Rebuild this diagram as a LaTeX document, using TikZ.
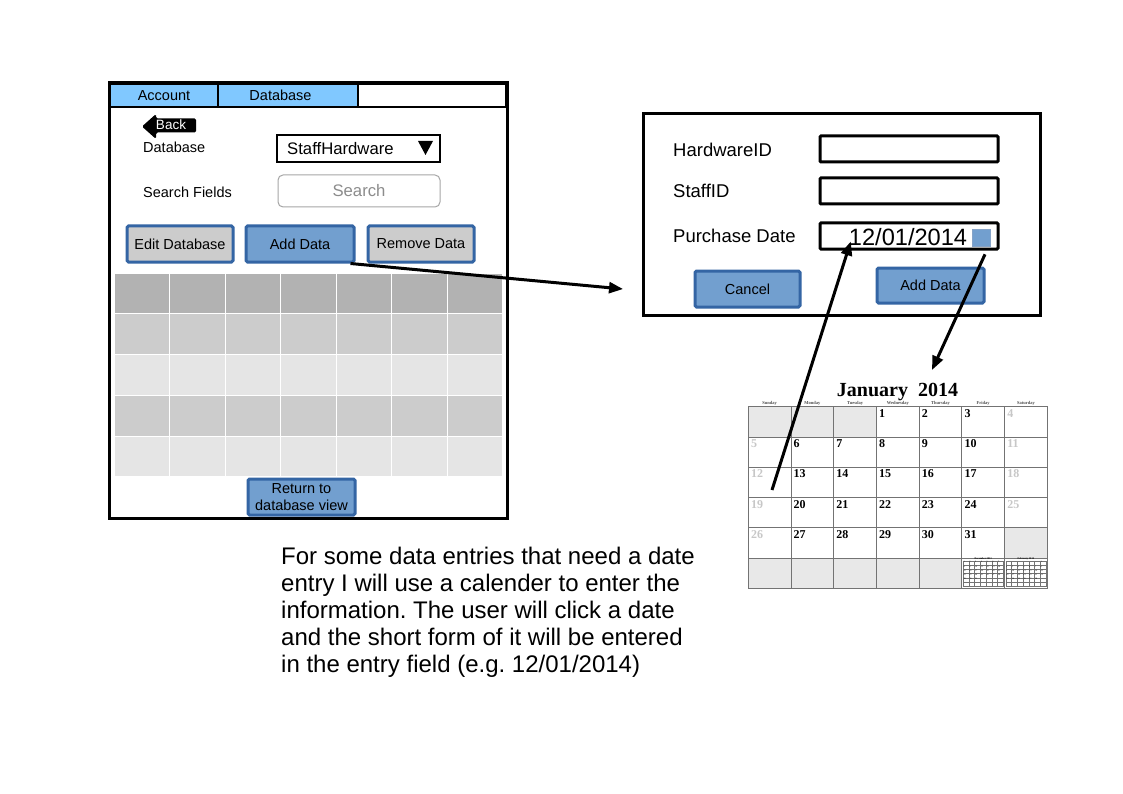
\documentclass[tikz,border=0pt]{standalone}
\usepackage{fontspec}
\setmainfont{Liberation Sans}
\newfontfamily\calfont{Liberation Serif}
\usepackage{xcolor}
\usepackage{tikz}
\usetikzlibrary{arrows.meta, positioning, calc}
\frenchspacing
\definecolor{tabblue}{RGB}{128,200,255}
\definecolor{btnblue}{RGB}{114,159,207}
\definecolor{btnedge}{RGB}{52,101,164}
\definecolor{calgrey}{RGB}{232,232,232}
\tikzstyle{window} = [rectangle, draw=black, line width=3pt, fill=white]
\tikzstyle{tab} = [rectangle, draw=black, line width=2.5pt, fill=tabblue, minimum height=23pt, font=\fontsize{14.5}{16}\selectfont]
\tikzstyle{fieldname} = [anchor=base west, inner sep=0pt, font=\fontsize{14.5}{16}\selectfont]
\tikzstyle{bigname} = [anchor=base west, inner sep=0pt, font=\fontsize{18.5}{22}\selectfont]
\tikzstyle{entry} = [rectangle, draw=black, line width=3pt, rounded corners=1pt, minimum width=178pt, minimum height=26pt]
\tikzstyle{button} = [rectangle, rounded corners=1.5pt, draw=btnedge, line width=3pt, fill=btnblue, minimum height=36pt, font=\fontsize{14.5}{16.7}\selectfont, align=center]
\tikzstyle{greybutton} = [button, fill=black!20]
\tikzstyle{daynum} = [anchor=north west, inner sep=1pt, font=\calfont\bfseries\fontsize{12}{13}\selectfont]
\tikzstyle{dayname} = [inner sep=0pt, text=black!70, font=\calfont\bfseries\fontsize{4.5}{5}\selectfont]
\tikzstyle{calcell} = [draw=black!55, line width=0.8pt]
\tikzstyle{arrow} = [line width=3pt, -{Triangle[length=14pt,width=11pt]}]

\begin{document}
\begin{tikzpicture}[x=1pt, y=-1pt]
    \useasboundingbox (0,0) rectangle (1123,794);

    \node[window, minimum width=398pt, minimum height=435pt] (win) at (308,300.5) {};
    \node[tab, minimum width=108pt] (account) at (164,95.5) {Account};
    \node[tab, minimum width=140pt] (database) at (288,95.5) {Database\hspace*{15pt}};
    \node[tab, minimum width=148pt, fill=white] (spare) at (432,95.5) {};

    \fill[rounded corners=1.5pt] (142,126.5) -- (156,114) -- (156,118.5) -- (196,118.5) -- (196,132.5) -- (156,132.5) -- (156,139) -- cycle;
    \node[anchor=base, inner sep=0pt, text=white, font=\fontsize{13.5}{15}\selectfont] (back) at (171,130) {Back};

    \node[fieldname] (dblabel) at (143,153) {Database};
    \node[rectangle, draw=black, line width=2.8pt, minimum width=163pt, minimum height=27pt] (dropdown) at (358.5,148.5) {};
    \node[anchor=base west, inner sep=0pt, font=\fontsize{16.7}{19}\selectfont] (dbname) at (287,155) {StaffHardware};
    \fill (418,141) -- (433,141) -- (425.5,155) -- cycle;

    \node[fieldname] (searchlabel) at (143,197.5) {Search Fields};
    \node[rectangle, rounded corners=5pt, draw=black!35, line width=1pt, minimum width=162pt, minimum height=32pt, text=black!45, font=\fontsize{16.7}{19}\selectfont] (search) at (359,191) {Search};

    \node[greybutton, minimum width=106pt] (edit) at (180,244) {Edit Database};
    \node[button, minimum width=108pt] (adddata) at (300,244) {Add Data};
    \node[greybutton, minimum width=106pt] (remove) at (421,244) {Remove Data};

    \foreach \row/\shade in {0/30,1/20,2/10,3/20,4/10}
        \foreach \col in {0,...,6}
            \filldraw[fill=black!\shade, draw=white, line width=1.2pt] (114+\col*55.57, 273+\row*40.8) rectangle ++(55.57,40.8);

    \node[button, minimum width=107pt, inner sep=1pt] (return) at (301.5,497) {Return to\\database view};

    \node[window, minimum width=397pt, minimum height=201pt] (dialog) at (841.5,214.5) {};
    \node[bigname] (hwlabel) at (673,156.5) {HardwareID};
    \node[bigname] (stafflabel) at (673,197.5) {StaffID};
    \node[bigname] (datelabel) at (673,243) {Purchase Date};
    \node[entry] (hwfield) at (909,149) {};
    \node[entry] (stafffield) at (909,191) {};
    \node[entry] (datefield) at (909,236) {};
    \node[anchor=base, inner sep=0pt, font=\fontsize{23.6}{26}\selectfont] (datetext) at (908,245) {12/01/2014};
    \node[rectangle, draw=btnedge!60, fill=btnblue, line width=0.6pt, minimum width=18pt, minimum height=17pt, inner sep=0pt] (calbtn) at (981,237.5) {};
    \node[button, minimum width=105pt] (cancel) at (747.5,289) {Cancel};
    \node[button, minimum width=107pt, minimum height=35pt] (confirm) at (930.5,285.5) {Add Data};

    \node[anchor=base, inner sep=0pt, font=\calfont\bfseries\fontsize{20}{22}\selectfont] (caltitle) at (897.5,396.7) {January\ \ 2014};
    \foreach \day [count=\i from 0] in {Sunday,Monday,Tuesday,Wednesday,Thursday,Friday,Saturday}
        \node[dayname] (head\i) at (748.3+\i*42.71+21.35, 403) {\day};
    \foreach \r/\c in {0/0,0/1,0/2,4/6,5/0,5/1,5/2,5/3,5/4}
        \fill[calgrey] (748.3+\c*42.71, 406.7+\r*30.27) rectangle ++(42.71,30.27);
    \foreach \r in {0,...,5}
        \foreach \c in {0,...,6}
            \draw[calcell] (748.3+\c*42.71, 406.7+\r*30.27) rectangle ++(42.71,30.27);
    \foreach \d in {1,...,31} {
        \pgfmathtruncatemacro{\pos}{\d+2}
        \pgfmathtruncatemacro{\r}{div(\pos,7)}
        \pgfmathtruncatemacro{\c}{mod(\pos,7)}
        \ifnum\c=0 \def\dcol{black!22}\else\ifnum\c=6 \def\dcol{black!22}\else\def\dcol{black}\fi\fi
        \node[daynum, text=\dcol] (d\d) at (748.3+\c*42.71+1.5, 406.7+\r*30.27+1.5) {\d};
    }
    \foreach \mx/\mname/\moff/\mdays in {963/December 2013/0/31, 1005.7/February 2014/6/28} {
        \node[inner sep=0pt, font=\calfont\bfseries\fontsize{2.6}{3}\selectfont] at (\mx+20.2,558.8) {\mname};
        \foreach \r in {0,...,5}
            \foreach \c in {0,...,6}
                \draw[draw=black!55, line width=0.3pt] (\mx+\c*5.75, 561+\r*4.2) rectangle ++(5.75,4.2);
        \foreach \d in {1,...,\mdays} {
            \pgfmathtruncatemacro{\pos}{\d+\moff-1}
            \pgfmathtruncatemacro{\r}{div(\pos,7)}
            \pgfmathtruncatemacro{\c}{mod(\pos,7)}
            \node[anchor=north west, inner sep=0.3pt, font=\calfont\fontsize{2.2}{2.5}\selectfont] at (\mx+\c*5.75, 561+\r*4.2) {\d};
        }
    }

    \node[anchor=north west, inner sep=0pt, align=left, font=\fontsize{24}{27}\selectfont] (note) at (281,547) {For some data entries that need a date\\entry I will use a calender to enter the\\information. The user will click a date\\and the short form of it will be entered\\in the entry field (e.g. 12/01/2014)};

    \coordinate (formin) at (623,289);
    \coordinate (pick) at (772,490);
    \coordinate (calendartop) at (932,370);
    \draw[arrow] ([xshift=-5pt]adddata.south east) -- (formin);
    \draw[arrow] (pick) -- ([xshift=2pt,yshift=4pt]datetext.south west);
    \draw[arrow] ([xshift=4pt,yshift=-8pt]calbtn.south) -- (calendartop);
\end{tikzpicture}
\end{document}
